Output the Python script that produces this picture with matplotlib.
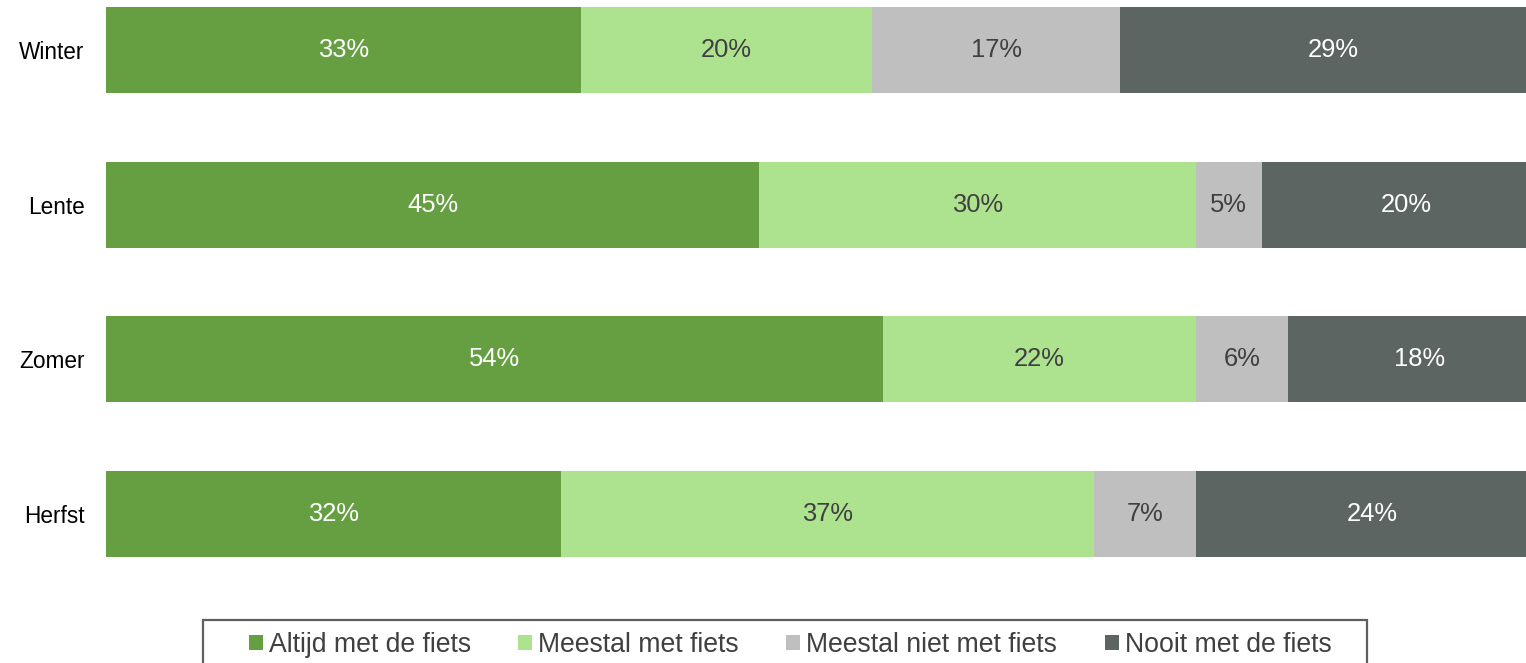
import matplotlib
matplotlib.use("Agg")
import matplotlib.pyplot as plt
from matplotlib.patches import Patch, Rectangle
import numpy as np

plt.rcParams['font.family'] = ['Liberation Sans', 'DejaVu Sans']

seasons = ["Winter", "Lente", "Zomer", "Herfst"]
series_names = ["Altijd met de fiets", "Meestal met fiets", "Meestal niet met fiets", "Nooit met de fiets"]
altijd = [32.9, 45.2, 53.8, 31.5]
meestal = [20.1, 30.2, 21.6, 36.9]
meestal_niet = [17.2, 4.6, 6.4, 7.0]
nooit = [29.4, 20.0, 18.2, 24.4]

colors = ["#659F41", "#ADE38F", "#BFBFBF", "#5D6563"]
label_colors = ["white", "#404040", "#404040", "white"]

W, H = 1526, 663
fig = plt.figure(figsize=(W / 100, H / 100), dpi=100)
ax = fig.add_axes([106 / W, 1 - 557 / H, 1445 / W, 550 / H])

series = [altijd, meestal, meestal_niet, nooit]
y = np.arange(len(seasons))
bh = 0.555
left = np.zeros(len(seasons))
for vals, c, lc in zip(series, colors, label_colors):
    vals = np.array(vals)
    bars = ax.barh(y, vals, left=left, height=bh, color=c, edgecolor='none')
    ax.bar_label(bars, labels=[f"{v:.0f}%" for v in vals], label_type='center',
                 color=lc, fontsize=18.4)
    left = left + vals

ax.set_xlim(0, 100)
ax.set_ylim(3 + bh / 2, -bh / 2)
ax.set_yticks(y)
ax.set_yticklabels(seasons, fontsize=16.3, color='black')
ax.set_xticks([])
ax.tick_params(axis='y', length=0, pad=15.5)
for s in ax.spines.values():
    s.set_visible(False)

# legend frame (extends past bottom edge as in the reference)
fig.patches.append(Rectangle((203 / W, 1 - 700 / H), (1367 - 203) / W, 80 / H,
                             transform=fig.transFigure, facecolor='none',
                             edgecolor='#5F5F5F', linewidth=1.6))

handles = [Patch(facecolor=c, edgecolor='none') for c in colors]
leg = fig.legend(handles, series_names, loc='center', ncol=4,
                 bbox_to_anchor=(790 / W, 1 - 645 / H), fontsize=19.2,
                 frameon=False, handlelength=0.53, handleheight=0.53,
                 handletextpad=0.22, columnspacing=1.78, borderpad=0,
                 borderaxespad=0)
for t in leg.get_texts():
    t.set_color('#404040')

fig.savefig("out.png", dpi=100)
